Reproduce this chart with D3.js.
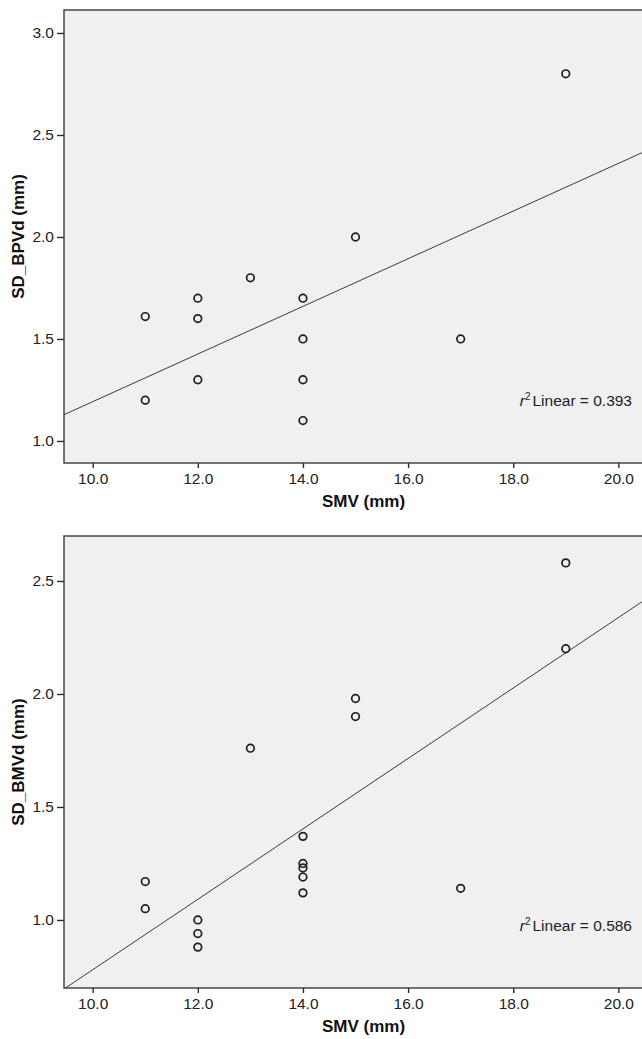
<!DOCTYPE html>
<html>
<head>
<meta charset="utf-8">
<script src="https://cdn.jsdelivr.net/npm/d3@7"></script>
<style>
  html, body { margin: 0; padding: 0; background: #fff; }
  svg { display: block; }
  text { font-family: "Liberation Sans", Arial, sans-serif; }
</style>
</head>
<body>
<svg id="chart" width="642" height="1039"></svg>
<script>
// ---- data ----
const xTicks = [10, 12, 14, 16, 18, 20];
const topYTicks = [1.0, 1.5, 2.0, 2.5, 3.0];
const botYTicks = [1.0, 1.5, 2.0, 2.5];

const smvTop = [11, 11, 12, 12, 12, 13, 14, 14, 14, 14, 15, 17, 19];
const sdBPVd = [1.61, 1.20, 1.70, 1.60, 1.30, 1.80, 1.70, 1.50, 1.30, 1.10, 2.00, 1.50, 2.80];

const smvBot = [11, 11, 12, 12, 12, 13, 14, 14, 14, 14, 14, 15, 15, 17, 19, 19];
const sdBMVd = [1.17, 1.05, 1.00, 0.94, 0.88, 1.76, 1.37, 1.25, 1.23, 1.19, 1.12, 1.98, 1.90, 1.14, 2.58, 2.20];

const r2Top = "0.393";
const r2Bot = "0.586";

const xTitle = "SMV (mm)";
const yTitleTop = "SD_BPVd (mm)";
const yTitleBot = "SD_BMVd (mm)";

// ---- layout ----
const svg = d3.select("#chart");
const left = 64, right = 642;
const x = d3.scaleLinear().domain([9.454, 20.45]).range([left, right]);

function fit(xs, ys) {
  const mx = d3.mean(xs), my = d3.mean(ys);
  let sxy = 0, sxx = 0;
  xs.forEach((v, i) => { sxy += (v - mx) * (ys[i] - my); sxx += (v - mx) * (v - mx); });
  const b = sxy / sxx;
  return { b, a: my - b * mx };
}

function panel(cfg, id) {
  const y = d3.scaleLinear().domain(cfg.yDomain).range([cfg.bottom, cfg.top]);
  const g = svg.append("g");

  g.append("clipPath").attr("id", "clip" + id)
    .append("rect").attr("x", left).attr("y", cfg.top)
    .attr("width", right - left + 2).attr("height", cfg.bottom - cfg.top);

  g.append("rect")
    .attr("x", left).attr("y", cfg.top)
    .attr("width", right - left + 5).attr("height", cfg.bottom - cfg.top)
    .attr("fill", "#f0f0f0").attr("stroke", "#3a3a3a").attr("stroke-width", 1.4);

  // regression line
  const f = fit(cfg.xs, cfg.ys);
  const [d0, d1] = x.domain();
  g.append("line")
    .attr("clip-path", `url(#clip${id})`)
    .attr("x1", x(d0)).attr("y1", y(f.a + f.b * d0))
    .attr("x2", x(d1)).attr("y2", y(f.a + f.b * d1))
    .attr("stroke", "#3a3a3a").attr("stroke-width", 1);

  // points
  g.selectAll("circle.pt").data(cfg.xs.map((v, i) => [v, cfg.ys[i]]))
    .enter().append("circle").attr("class", "pt")
    .attr("cx", d => x(d[0])).attr("cy", d => y(d[1]))
    .attr("r", 3.8).attr("fill", "none")
    .attr("stroke", "#1e1e1e").attr("stroke-width", 1.7);

  // y axis
  const ya = g.append("g").attr("transform", `translate(${left},0)`)
    .call(d3.axisLeft(y).tickValues(cfg.yTicks).tickFormat(d3.format(".1f"))
      .tickSize(7).tickPadding(3));
  ya.select(".domain").remove();
  ya.selectAll(".tick line").attr("stroke", "#2a2a2a").attr("stroke-width", 1.4);
  ya.selectAll(".tick text").attr("font-size", 15.5).attr("fill", "#222")
    .style("font-family", '"Liberation Sans", Arial, sans-serif');

  // x axis
  const xa = g.append("g").attr("transform", `translate(0,${cfg.bottom})`)
    .call(d3.axisBottom(x).tickValues(xTicks).tickFormat(d3.format(".1f"))
      .tickSize(5).tickPadding(5));
  xa.select(".domain").remove();
  xa.selectAll(".tick line").attr("stroke", "#2a2a2a").attr("stroke-width", 1.4);
  xa.selectAll(".tick text").attr("font-size", 15.5).attr("fill", "#222")
    .style("font-family", '"Liberation Sans", Arial, sans-serif');

  // axis titles
  g.append("text")
    .attr("x", (x(10) + x(20)) / 2 + 8).attr("y", cfg.bottom + 44)
    .attr("text-anchor", "middle").attr("font-size", 17).attr("font-weight", "bold")
    .attr("fill", "#111").text(xTitle);

  g.append("text")
    .attr("transform", `translate(24,${(cfg.top + cfg.bottom) / 2}) rotate(-90)`)
    .attr("text-anchor", "middle").attr("font-size", 17).attr("font-weight", "bold")
    .attr("fill", "#111").text(cfg.yTitle);

  // r2 label
  const t = g.append("text")
    .attr("x", 632).attr("y", cfg.r2y)
    .attr("text-anchor", "end").attr("font-size", 15.5).attr("fill", "#222");
  t.append("tspan").attr("font-style", "italic").text("r");
  t.append("tspan").attr("font-size", 10).attr("dy", -6).text("2");
  t.append("tspan").attr("dy", 6).attr("dx", 2).text("Linear = " + cfg.r2);
}

panel({ top: 10, bottom: 463, yDomain: [0.892, 3.1127], yTicks: topYTicks,
        xs: smvTop, ys: sdBPVd, yTitle: yTitleTop, r2: r2Top, r2y: 406 }, 1);
panel({ top: 536, bottom: 988, yDomain: [0.699, 2.699], yTicks: botYTicks,
        xs: smvBot, ys: sdBMVd, yTitle: yTitleBot, r2: r2Bot, r2y: 931 }, 2);
</script>
</body>
</html>
